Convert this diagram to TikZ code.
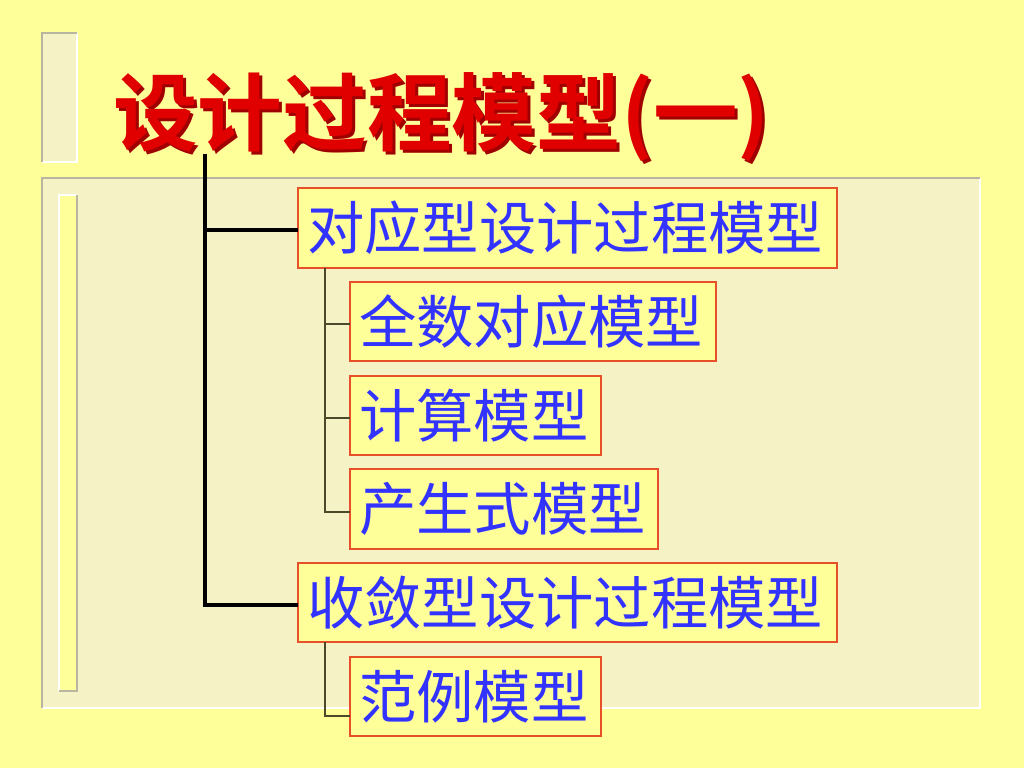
\documentclass[tikz,border=0pt]{standalone}
\usepackage{fontspec}
\newfontfamily\cjk{Noto Sans CJK SC}
\newfontfamily\cjkb{Noto Sans CJK SC Bold}
\definecolor{bg}{HTML}{FFFF99}
\definecolor{panel}{HTML}{F5F3C5}
\definecolor{edgegray}{HTML}{B8B6A0}
\definecolor{boxred}{HTML}{E8502A}
\definecolor{txtblue}{HTML}{3333FF}
\definecolor{titlered}{HTML}{E00000}
\definecolor{shadowred}{HTML}{A00000}
\definecolor{olive}{HTML}{4A4A2A}
\newcommand\titletext{设计过程模型(一)}
\tikzset{
  itembox/.style={draw=boxred, line width=1pt, fill=bg},
  itemtext/.style={anchor=west, inner sep=0pt, text=txtblue, font=\cjk\fontsize{43}{43}\selectfont},
  trunk/.style={line width=2.4pt, black},
  twig/.style={line width=0.9pt, olive},
}
\begin{document}
\begin{tikzpicture}[x=0.75pt,y=-0.75pt]
\useasboundingbox (0,0) rectangle (1024,768);
\fill[bg] (0,0) rectangle (1024,768);
% top-left bar
\fill[panel] (42,33) rectangle (77,162);
\draw[white, line width=1.2pt] (77,33) -- (77,162) -- (42,162);
\draw[edgegray, line width=1.2pt] (42,162) -- (42,33) -- (77,33);
% panel
\fill[panel] (42,178) rectangle (980,708);
\draw[white, line width=1.5pt] (980,178) -- (980,708) -- (42,708);
\draw[edgegray, line width=1.5pt] (42,708) -- (42,178) -- (980,178);
% inner yellow bar
\fill[bg] (59,195) rectangle (77,691);
\draw[white, line width=1.2pt] (59,691) -- (59,195) -- (77,195);
\draw[edgegray, line width=1.2pt] (77,195) -- (77,691) -- (59,691);
% title with shadow
\node[anchor=west, inner sep=0pt, text=titlered, font=\cjkb\fontsize{63.5}{63.5}\selectfont] (title) at (113,119)
  {\rlap{\kern2.2pt\raisebox{-2.2pt}{\textcolor{shadowred}{\titletext}}}\titletext};
% trunk
\coordinate (troot) at (205,154);
\coordinate (tb) at (205,605);
% boxes
\draw[itembox] (298,188) rectangle (837,268);
\node[itemtext] (b1) at (307,228) {对应型设计过程模型};
\draw[itembox] (350,282) rectangle (716,361);
\node[itemtext] (b2) at (359,321.5) {全数对应模型};
\draw[itembox] (350,376) rectangle (601,455);
\node[itemtext] (b3) at (359,415.5) {计算模型};
\draw[itembox] (350,469) rectangle (658,549);
\node[itemtext] (b4) at (359,509) {产生式模型};
\draw[itembox] (298,563) rectangle (837,642);
\node[itemtext] (b5) at (307,602.5) {收敛型设计过程模型};
\draw[itembox] (350,657) rectangle (601,736);
\node[itemtext] (b6) at (359,696.5) {范例模型};
% connectors
\draw[trunk] (troot) -- (tb) -- (298,605);
\draw[trunk] (205,230) -- (298,230);
\draw[twig] (325,268) -- (325,512) -- (350,512);
\draw[twig] (325,324) -- (350,324);
\draw[twig] (325,418) -- (350,418);
\draw[twig] (325,642) -- (325,716) -- (350,716);
\end{tikzpicture}
\end{document}
